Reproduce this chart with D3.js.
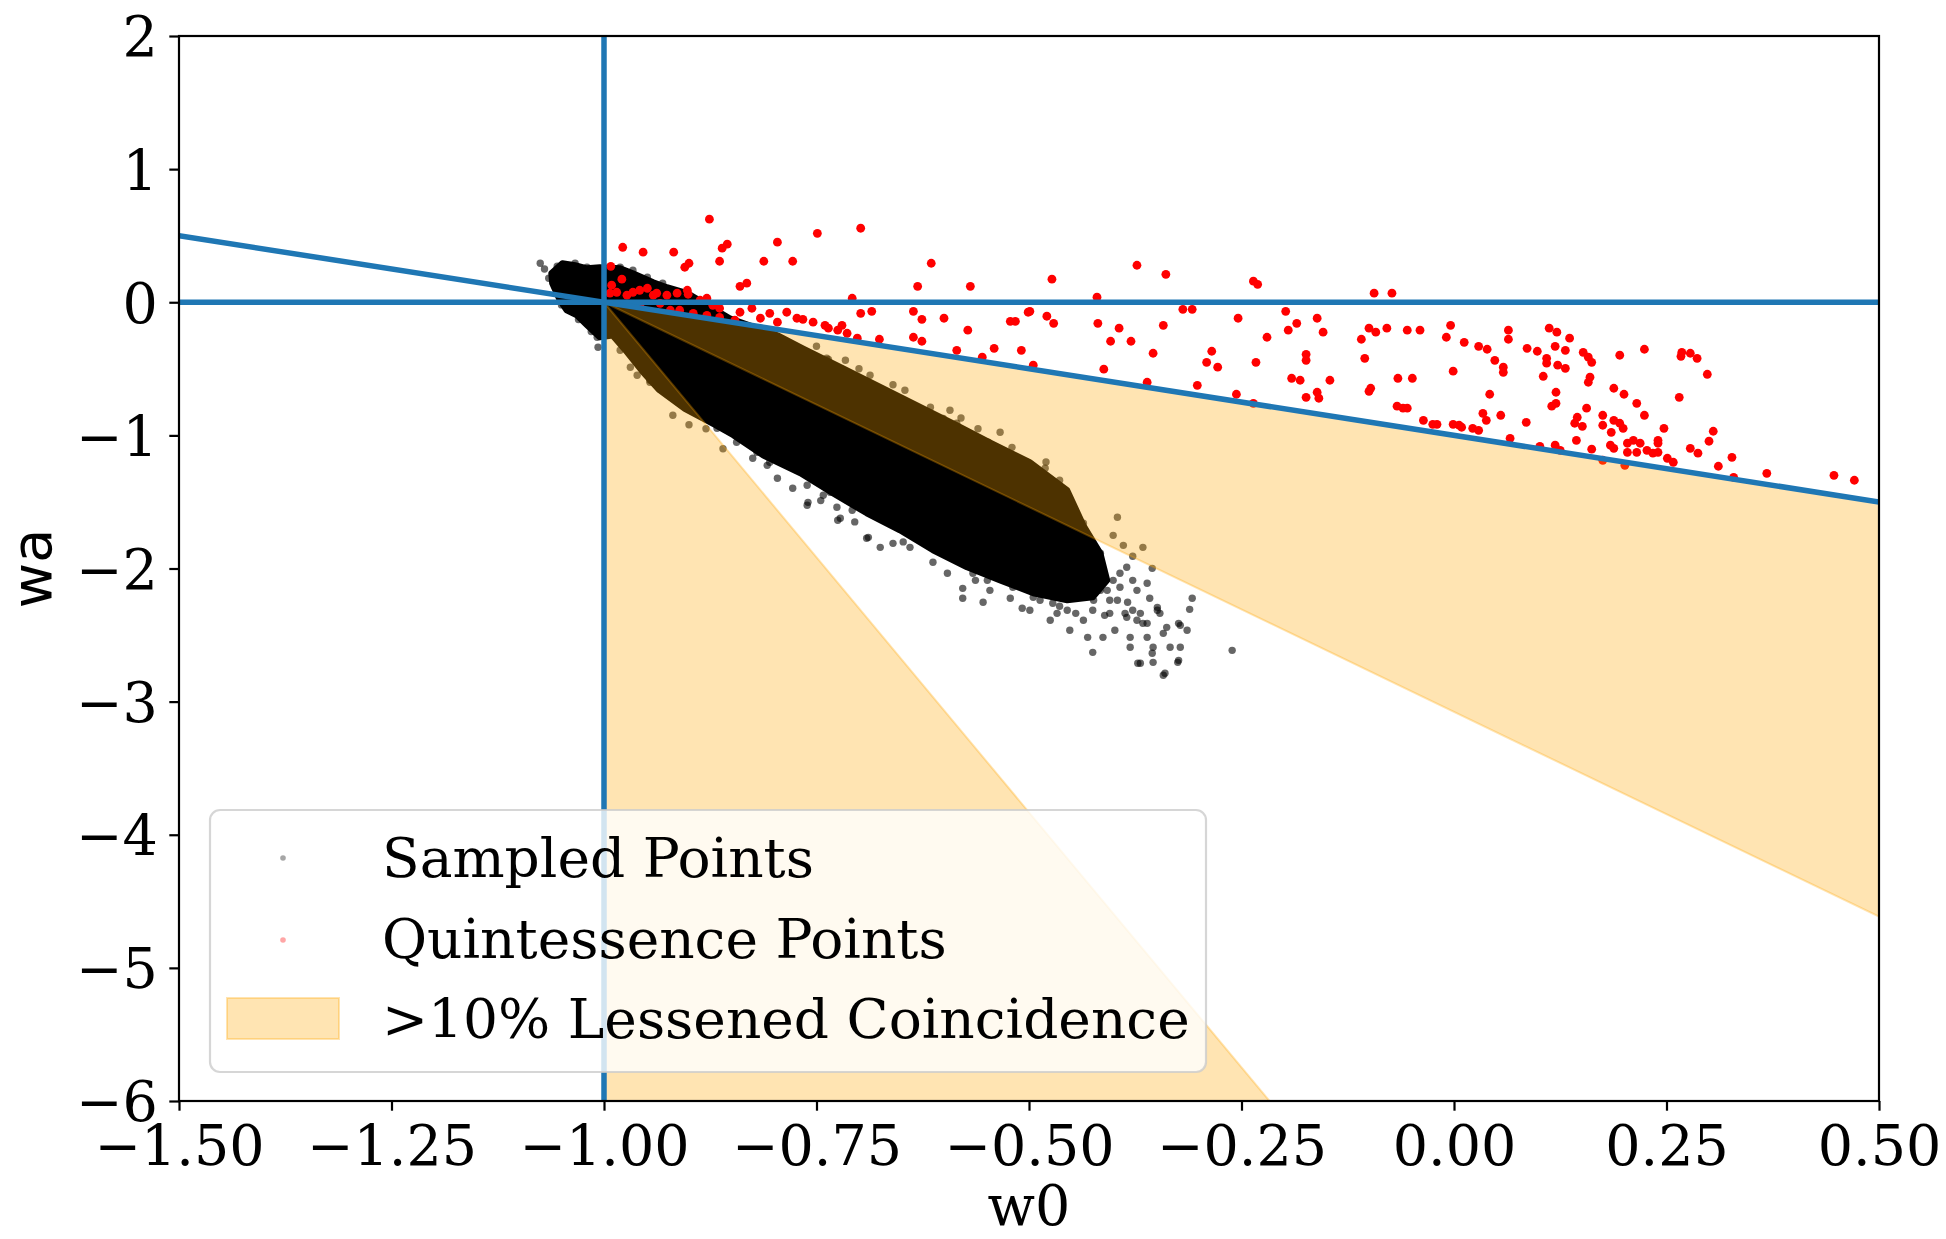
<!DOCTYPE html>
<html><head><meta charset="utf-8">
<script src="https://cdn.jsdelivr.net/npm/d3@7"></script>
<style>html,body{margin:0;padding:0;background:#fff;} svg{display:block;}</style>
</head><body>
<svg id="chart" width="1946" height="1239"></svg>
<script>
// ---------- data ----------
const xDomain = [-1.5, 0.5];
const yDomain = [-6, 2];
const xTicks = [-1.5, -1.25, -1.0, -0.75, -0.5, -0.25, 0, 0.25, 0.5];
const yTicks = [2, 1, 0, -1, -2, -3, -4, -5, -6];
const vLineW0 = [-1];
const hLineWa = [0];
const diagLine = [[-1.5, 0.5], [0.5, -1.5]];
const region1 = [[-1, 0], [0.5, -1.5], [0.5, -4.615]];
const region2 = [[-1, 0], [-0.217, -6], [-1, -6]];
const legendLabels = ["Sampled Points", "Quintessence Points", ">10% Lessened Coincidence"];

// dense core of the sampled cloud (outline)
const sampledCore = [
[-1.062,0.218],[-1.049,0.293],[-1.034,0.278],[-1.020,0.255],[-1.005,0.263],[-0.981,0.255],[-0.966,0.218],[-0.942,0.150],[-0.926,0.113],[-0.902,0.068],[-0.852,-0.120],[-0.796,-0.248],[-0.766,-0.346],[-0.719,-0.496],[-0.672,-0.646],[-0.625,-0.796],[-0.585,-0.924],[-0.546,-1.052],[-0.499,-1.202],[-0.455,-1.412],[-0.436,-1.675],[-0.416,-1.886],[-0.408,-2.089],[-0.425,-2.216],[-0.455,-2.239],[-0.495,-2.186],[-0.534,-2.089],[-0.573,-1.991],[-0.613,-1.863],[-0.652,-1.713],[-0.691,-1.585],[-0.731,-1.435],[-0.769,-1.285],[-0.813,-1.150],[-0.848,-0.999],[-0.870,-0.920],[-0.905,-0.800],[-0.935,-0.660],[-0.955,-0.520],[-0.975,-0.360],[-0.990,-0.250],[-1.005,-0.263],[-1.020,-0.173],[-1.032,-0.098],[-1.044,-0.060],[-1.052,0.015],[-1.061,0.143]
];

// sparse sampled points around the core
const sampledPoints = [
[-1.075,0.293],[-1.048,0.113],[-1.040,-0.038],[-1.007,-0.338],[-0.961,-0.548],[-0.946,-0.601],[-0.919,-0.849],[-0.836,-0.999],[-0.825,-1.172],[-0.808,-1.225],[-0.796,-1.322],[-0.778,-1.397],[-0.760,-1.503],[-0.734,-1.427],[-0.738,-0.421],[-0.716,-0.436],[-0.687,-0.548],[-0.646,-0.661],[-0.616,-0.789],[-0.601,-0.872],[-0.593,-0.811],[-0.534,-0.977],[-0.519,-1.172],[-0.507,-1.277],[-0.481,-1.247],[-0.475,-1.360],[-0.464,-1.337],[-0.396,-1.615],[-0.401,-1.751],[-0.389,-1.826],[-0.378,-1.908],[-0.366,-1.841],[-0.355,-1.999],[-0.761,-1.525],[-0.725,-1.638],[-0.691,-1.773],[-0.675,-1.841],[-0.660,-1.811],[-0.613,-1.953],[-0.596,-2.036],[-0.578,-2.149],[-0.578,-2.224],[-0.554,-2.254],[-0.522,-2.224],[-0.508,-2.299],[-0.499,-2.314],[-0.467,-2.337],[-0.436,-2.389],[-0.431,-2.517],[-0.425,-2.630],[-0.399,-2.464],[-0.381,-2.592],[-0.369,-2.712],[-0.354,-2.705],[-0.342,-2.802],[-0.361,-2.517],[-0.338,-2.442],[-0.322,-2.427],[-0.314,-2.464],[-0.322,-2.592],[-0.325,-2.705],[-0.308,-2.224],[-0.311,-2.307],[-0.261,-2.615],[-0.346,-2.337],[-0.373,-2.389],[-0.385,-2.367],[-0.361,-2.111],[-0.378,-2.089],[-0.349,-2.292],[-0.393,-2.036],[-0.373,-2.164],[-0.384,-2.254],[-0.358,-2.224],[-0.424,-2.239],[-0.387,-2.337],[-0.366,-2.412],[-0.324,-2.412],[-0.334,-2.592],[-0.355,-2.637],[-0.324,-2.690],[-0.340,-2.787],[-0.413,-2.517],[-0.445,-2.337],[-0.372,-2.712],[-0.487,-2.239],[-0.464,-2.284],[-0.446,-2.224],[-0.416,-2.164],[-0.405,-2.239],[-0.411,-2.352],[-0.475,-2.389],[-0.452,-2.464],[-0.546,-2.164],[-0.563,-2.089],
[-0.745,-1.490],[-0.705,-1.650],[-0.648,-1.800],[-0.860,-1.100],[-0.880,-0.950],[-0.900,-0.920],
[-0.800,-0.220],[-0.750,-0.330],[-0.700,-0.500],[-0.660,-0.620],[-0.580,-0.870],[-0.560,-0.950],[-0.520,-1.090],[-0.480,-1.200],
[-1.070,0.250],[-1.055,0.270],[-1.065,0.180],[-1.050,-0.020],[-1.030,-0.130],[-1.015,-0.220],
[-0.736,-0.429],[-0.585,-0.909],[-0.548,-1.052],[-0.502,-1.202],[-0.499,-1.262],[-0.478,-1.367],[-0.448,-1.540],[-0.436,-1.660],
[-0.726,-1.540],[-0.722,-1.623],[-0.708,-1.563],[-0.689,-1.766],[-0.640,-1.841],[-0.585,-1.916],[-0.566,-2.036],[-0.549,-2.089],[-0.538,-2.066],[-0.519,-2.141],[-0.495,-2.216],[-0.472,-2.261],[-0.455,-2.314],[-0.444,-2.216],[-0.428,-2.089],[-0.420,-1.991],[-0.416,-1.886],[-0.408,-2.164],[-0.396,-2.239],[-0.425,-2.314],[-0.405,-2.337],[-0.378,-2.314],[-0.369,-2.337],[-0.349,-2.314],[-0.342,-2.487],[-0.354,-2.592],[-0.381,-2.517],[-0.361,-2.412],[-0.401,-2.089],[-0.385,-1.991],[-0.393,-2.141],
[-0.867,-0.947],[-0.844,-1.052],[-0.820,-1.127],[-0.828,-0.999],[-0.805,-1.202],[-0.761,-1.375],[-0.742,-1.450],[-0.714,-1.488],
[-0.969,-0.488],[-0.981,-0.361],[-0.946,-0.586],[-0.934,-0.639],[-0.902,-0.789],
[-1.048,0.278],[-1.034,0.293],[-1.020,0.263],[-1.052,0.128],[-1.040,0.068],[-1.028,-0.113],[-1.014,-0.188],[-1.008,-0.263],[-0.981,0.263],[-0.966,0.240],[-0.949,0.188],[-0.931,0.143]
];

// quintessence points
const quintPoints = [
[-0.876,0.624],[-0.978,0.413],[-0.954,0.376],[-0.918,0.376],[-0.900,0.293],[-0.905,0.263],[-0.861,0.406],[-0.855,0.436],[-0.864,0.308],[-0.796,0.451],[-0.812,0.308],[-0.778,0.308],[-0.749,0.518],[-0.698,0.556],[-0.615,0.293],[-0.631,0.120],[-0.569,0.120],[-0.840,0.120],[-0.832,0.143],[-0.992,0.270],[-0.979,0.173],[-0.991,0.128],[-0.966,0.075],[-0.949,0.105],[-0.938,0.068],[-0.902,0.090],[-0.901,0.060],[-0.879,0.030],[-0.826,-0.045],[-0.805,-0.083],[-0.816,-0.120],[-0.785,-0.075],[-0.796,-0.150],[-0.773,-0.120],[-0.766,-0.128],[-0.754,-0.150],[-0.740,-0.173],[-0.736,-0.195],[-0.725,-0.210],[-0.720,-0.173],[-0.714,-0.233],[-0.702,-0.270],[-0.708,0.030],[-0.698,-0.083],[-0.685,-0.068],[-0.676,-0.278],[-0.636,-0.068],[-0.626,-0.128],[-0.636,-0.263],[-0.626,-0.293],[-0.600,-0.120],[-0.572,-0.210],[-0.585,-0.361],[-0.555,-0.413],[-0.541,-0.346],[-0.522,-0.143],[-0.516,-0.143],[-0.509,-0.361],[-0.501,-0.075],
[-0.958,0.090],[-0.926,0.053],[-0.914,0.068],[-0.887,0.015],[-0.872,-0.023],[-0.864,-0.045],[-0.993,0.068],[-0.985,0.075],[-0.973,0.053],[-0.942,0.053],[-0.922,-0.060],[-0.895,-0.083],[-0.879,-0.098],[-0.864,-0.113],[-0.958,-0.023],[-0.934,-0.008],[-0.911,-0.060],[-0.846,-0.135],[-0.840,-0.075],
[-0.473,0.173],[-0.373,0.278],[-0.339,0.210],[-0.236,0.158],[-0.231,0.135],[-0.094,0.068],[-0.073,0.068],[-0.420,0.038],[-0.499,-0.068],[-0.479,-0.105],[-0.471,-0.158],[-0.419,-0.158],[-0.394,-0.195],[-0.342,-0.173],[-0.319,-0.053],[-0.308,-0.053],[-0.254,-0.120],[-0.198,-0.068],[-0.185,-0.158],[-0.161,-0.120],[-0.154,-0.225],[-0.195,-0.210],[-0.220,-0.263],[-0.100,-0.195],[-0.092,-0.225],[-0.079,-0.195],[-0.055,-0.210],[-0.040,-0.210],[-0.009,-0.263],[-0.004,-0.173],[-0.109,-0.278],[-0.105,-0.421],[-0.404,-0.293],[-0.380,-0.293],[-0.354,-0.383],[-0.412,-0.503],[-0.495,-0.473],[-0.285,-0.368],[-0.291,-0.451],[-0.278,-0.488],[-0.233,-0.451],[-0.174,-0.391],[-0.174,-0.436],[-0.302,-0.624],[-0.256,-0.691],[-0.191,-0.571],[-0.181,-0.586],[-0.146,-0.586],[-0.174,-0.714],[-0.161,-0.676],[-0.159,-0.721],[-0.098,-0.646],[-0.100,-0.669],[-0.066,-0.571],[-0.049,-0.571],[-0.067,-0.781],[-0.060,-0.796],[-0.055,-0.796],[-0.036,-0.887],[-0.025,-0.917],[-0.020,-0.917],[-0.001,-0.917],[-0.001,-0.518],[-0.236,-0.759],[-0.361,-0.601],[0.006,-0.924],
[0.012,-0.301],[0.029,-0.331],[0.039,-0.353],[0.064,-0.210],[0.064,-0.278],[0.112,-0.195],[0.121,-0.225],[0.136,-0.270],[0.086,-0.346],[0.098,-0.368],[0.119,-0.331],[0.131,-0.361],[0.109,-0.421],[0.109,-0.458],[0.122,-0.473],[0.131,-0.496],[0.152,-0.376],[0.158,-0.413],[0.162,-0.451],[0.195,-0.398],[0.224,-0.353],[0.268,-0.376],[0.278,-0.383],[0.286,-0.421],[0.267,-0.406],[0.298,-0.541],[0.048,-0.436],[0.058,-0.488],[0.058,-0.526],[0.105,-0.556],[0.160,-0.563],[0.158,-0.601],[0.120,-0.676],[0.120,-0.759],[0.115,-0.781],[0.042,-0.691],[0.188,-0.646],[0.200,-0.691],[0.215,-0.759],[0.224,-0.849],[0.265,-0.714],[0.156,-0.796],[0.034,-0.834],[0.038,-0.887],[0.055,-0.849],[0.085,-0.902],[0.145,-0.864],[0.142,-0.909],[0.151,-0.932],[0.175,-0.849],[0.175,-0.924],[0.188,-0.887],[0.195,-0.909],[0.199,-0.947],[0.185,-0.977],[0.247,-0.947],[0.305,-0.969],[0.300,-1.044],[0.009,-0.939],[0.022,-0.947],[0.029,-0.962],[0.066,-1.022],[0.144,-1.037],[0.162,-1.104],[0.101,-1.082],[0.119,-1.074],[0.125,-1.112],[0.184,-1.074],[0.188,-1.097],[0.204,-1.059],[0.211,-1.037],[0.219,-1.059],[0.204,-1.127],[0.215,-1.127],[0.227,-1.112],[0.234,-1.134],[0.240,-1.059],[0.240,-1.127],[0.251,-1.172],[0.258,-1.202],[0.175,-1.187],[0.201,-1.225],[0.240,-1.037],[0.278,-1.097],[0.287,-1.134],[0.311,-1.232],[0.327,-1.165],[0.368,-1.285],[0.447,-1.300],[0.471,-1.337],[0.329,-1.315]
];

// ---------- drawing ----------
const plot = {left: 179, right: 1879, top: 36, bottom: 1101};
const x = d3.scaleLinear().domain(xDomain).range([plot.left, plot.right]);
const y = d3.scaleLinear().domain(yDomain).range([plot.bottom, plot.top]);
const svg = d3.select("#chart");
const SERIF = "'DejaVu Serif', serif";
const SANS = "'DejaVu Sans', sans-serif";
const FS = 55.5;
const LFS = 55;
const BLUE = "#1f77b4";

svg.append("defs").append("clipPath").attr("id", "clip")
  .append("rect").attr("x", plot.left).attr("y", plot.top)
  .attr("width", plot.right - plot.left).attr("height", plot.bottom - plot.top);

const g = svg.append("g").attr("clip-path", "url(#clip)");
const poly = d3.line().x(d => x(d[0])).y(d => y(d[1]));

// sampled points: dense core + sparse points
g.append("path").datum(sampledCore)
  .attr("d", d => poly(d) + "Z")
  .attr("fill", "#000").attr("stroke", "#000").attr("stroke-width", 6).attr("stroke-linejoin", "round");
g.append("g").selectAll("circle").data(sampledPoints).join("circle")
  .attr("cx", d => x(d[0])).attr("cy", d => y(d[1])).attr("r", 3.7)
  .attr("fill", "#000").attr("fill-opacity", 0.6);

// quintessence points
g.append("g").selectAll("circle").data(quintPoints).join("circle")
  .attr("cx", d => x(d[0])).attr("cy", d => y(d[1])).attr("r", 4.4)
  .attr("fill", "#ff0000");

// shaded regions
[region1, region2].forEach(r => {
  g.append("path").datum(r).attr("d", d => poly(d) + "Z")
    .attr("fill", "orange").attr("fill-opacity", 0.3)
    .attr("stroke", "orange").attr("stroke-opacity", 0.3).attr("stroke-width", 2);
});

// reference lines
vLineW0.forEach(v => g.append("line")
  .attr("x1", x(v)).attr("x2", x(v)).attr("y1", y(yDomain[0])).attr("y2", y(yDomain[1]))
  .attr("stroke", BLUE).attr("stroke-width", 5.5));
hLineWa.forEach(v => g.append("line")
  .attr("x1", x(xDomain[0])).attr("x2", x(xDomain[1])).attr("y1", y(v)).attr("y2", y(v))
  .attr("stroke", BLUE).attr("stroke-width", 5.5));
g.append("path").datum(diagLine).attr("d", poly)
  .attr("fill", "none").attr("stroke", BLUE).attr("stroke-width", 5.5);

// axes
const gx = svg.append("g").attr("transform", `translate(0,${plot.bottom})`)
  .call(d3.axisBottom(x).tickValues(xTicks).tickFormat(d3.format(".2f")).tickSize(9.7).tickPadding(15));
const gy = svg.append("g").attr("transform", `translate(${plot.left},0)`)
  .call(d3.axisLeft(y).tickValues(yTicks).tickFormat(d3.format("d")).tickSize(9.7).tickPadding(11.5));
[gx, gy].forEach(ax => {
  ax.select(".domain").remove();
  ax.selectAll(".tick line").attr("stroke", "#000").attr("stroke-width", 2.2);
  ax.selectAll(".tick text").attr("font-family", SERIF).attr("font-size", FS).attr("fill", "#000");
});
gy.selectAll(".tick text").attr("dy", "0.36em");

// spines
svg.append("rect").attr("x", plot.left).attr("y", plot.top)
  .attr("width", plot.right - plot.left).attr("height", plot.bottom - plot.top)
  .attr("fill", "none").attr("stroke", "#000").attr("stroke-width", 2.2);

// axis labels
svg.append("text").attr("x", (plot.left + plot.right) / 2).attr("y", 1225)
  .attr("text-anchor", "middle").attr("font-family", SERIF).attr("font-size", FS).text("w0");
svg.append("text").attr("transform", `translate(51,${(plot.top + plot.bottom) / 2}) rotate(-90)`)
  .attr("text-anchor", "middle").attr("font-family", SANS).attr("font-size", FS).text("wa");

// legend
const lg = svg.append("g");
lg.append("rect").attr("x", 210).attr("y", 810).attr("width", 996).attr("height", 262).attr("rx", 10)
  .attr("fill", "#fff").attr("fill-opacity", 0.8)
  .attr("stroke", "#cccccc").attr("stroke-opacity", 0.8).attr("stroke-width", 2.2);
lg.append("circle").attr("cx", 283).attr("cy", 858).attr("r", 2.8).attr("fill", "#000").attr("fill-opacity", 0.35);
lg.append("circle").attr("cx", 283).attr("cy", 940).attr("r", 2.8).attr("fill", "#ff0000").attr("fill-opacity", 0.35);
lg.append("rect").attr("x", 227).attr("y", 998).attr("width", 112).attr("height", 41)
  .attr("fill", "orange").attr("fill-opacity", 0.3).attr("stroke", "orange").attr("stroke-opacity", 0.3).attr("stroke-width", 2);
const baselines = [877, 958, 1038];
lg.selectAll("text.lbl").data(legendLabels).join("text").attr("class", "lbl")
  .attr("x", 382).attr("y", (d, i) => baselines[i])
  .attr("font-family", SERIF).attr("font-size", LFS).attr("fill", "#000").text(d => d);
</script>
</body></html>
